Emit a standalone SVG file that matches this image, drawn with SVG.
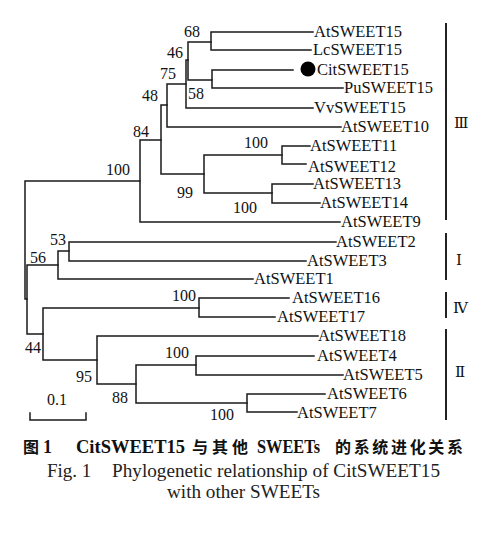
<svg xmlns="http://www.w3.org/2000/svg" width="500" height="535" viewBox="0 0 500 535">
<style>
.br{fill:none;stroke:#1a1a1a;stroke-width:1.5;stroke-linecap:square}
.bk{fill:none;stroke:#222;stroke-width:2}
.lb{font-family:"Liberation Serif","Times New Roman",serif;font-size:16.5px;fill:#111}
.bs{font-family:"Liberation Serif","Times New Roman",serif;font-size:16px;fill:#111}
.rn{font-family:"Liberation Serif","DejaVu Serif","Noto Sans CJK SC",serif;font-size:15px;fill:#111}
.c1{font-family:"Liberation Serif","Noto Serif CJK SC","Noto Sans CJK SC",serif;font-size:18px;font-weight:bold;fill:#111}
.cj{font-family:"Noto Sans CJK SC",sans-serif;font-size:16px;font-weight:bold;fill:#111}
.c2{font-family:"Liberation Serif","Times New Roman",serif;font-size:19px;fill:#222}
</style>
<rect width="500" height="535" fill="#fff"/>
<g id="connectors">
<path class="br" d="M25,181V299H27M25,181H140"/>
<path class="br" d="M140,140V222M140,140H161M140,222H340"/>
<path class="br" d="M161,105V174M161,105H167M161,174H204"/>
<path class="br" d="M167,84V127M167,84H186M167,127H341"/>
<path class="br" d="M186,60V108M186,60H188M186,108H313"/>
<path class="br" d="M188,42V80M188,42H211M188,80H212"/>
<path class="br" d="M211,32V50M211,32H313M211,50H311"/>
<path class="br" d="M212,70V88M212,70H293M212,88H343"/>
<path class="br" d="M204,155V193M204,155H282M204,193H272"/>
<path class="br" d="M282,146V164M282,146H310M282,164H306"/>
<path class="br" d="M272,184V203M272,184H313M272,203H320"/>
<path class="br" d="M27,265V334M27,265H58M27,334H43"/>
<path class="br" d="M58,251V279M58,251H69M58,279H253"/>
<path class="br" d="M69,242V261M69,242H336M69,261H306"/>
<path class="br" d="M43,308V360M43,308H199M43,360H97"/>
<path class="br" d="M199,298V317M199,298H289M199,317H275"/>
<path class="br" d="M97,336V384M97,336H318M97,384H136"/>
<path class="br" d="M136,365V403M136,365H196M136,403H247"/>
<path class="br" d="M196,356V375M196,356H314M196,375H343"/>
<path class="br" d="M247,394V412M247,394H325M247,412H297"/>
<path class="br" d="M30,413V420H86V413"/>
</g>
<g id="brackets">
<line class="bk" x1="446" y1="23" x2="446" y2="220"/>
<line class="bk" x1="446" y1="233" x2="446" y2="280"/>
<line class="bk" x1="446" y1="292" x2="446" y2="318"/>
<line class="bk" x1="446" y1="329" x2="446" y2="420"/>
<text class="rn" x="454" y="128">Ⅲ</text>
<text class="rn" x="456" y="265">Ⅰ</text>
<text class="rn" x="453" y="313">Ⅳ</text>
<text class="rn" x="455" y="377">Ⅱ</text>
</g>
<g id="bootstrap">
<text class="bs" x="184" y="37">68</text>
<text class="bs" x="167" y="58">46</text>
<text class="bs" x="160" y="79">75</text>
<text class="bs" x="188" y="99">58</text>
<text class="bs" x="142" y="101">48</text>
<text class="bs" x="133" y="137">84</text>
<text class="bs" x="106" y="175">100</text>
<text class="bs" x="244" y="148">100</text>
<text class="bs" x="177" y="198">99</text>
<text class="bs" x="233" y="213">100</text>
<text class="bs" x="50" y="245">53</text>
<text class="bs" x="30" y="263">56</text>
<text class="bs" x="172" y="301">100</text>
<text class="bs" x="25" y="353">44</text>
<text class="bs" x="165" y="358">100</text>
<text class="bs" x="76" y="382">95</text>
<text class="bs" x="112" y="403">88</text>
<text class="bs" x="210" y="420">100</text>
<text class="bs" x="47" y="405">0.1</text>
</g>
<g id="leaf-AtSWEET15"><text class="lb" x="314" y="37">AtSWEET15</text></g>
<g id="leaf-LcSWEET15"><text class="lb" x="313" y="55">LcSWEET15</text></g>
<g id="leaf-CitSWEET15"><circle cx="308" cy="69" r="7.5" fill="#000"/><text class="lb" x="317" y="75">CitSWEET15</text></g>
<g id="leaf-PuSWEET15"><text class="lb" x="344" y="93">PuSWEET15</text></g>
<g id="leaf-VvSWEET15"><text class="lb" x="314" y="113">VvSWEET15</text></g>
<g id="leaf-AtSWEET10"><text class="lb" x="341" y="132">AtSWEET10</text></g>
<g id="leaf-AtSWEET11"><text class="lb" x="310" y="151">AtSWEET11</text></g>
<g id="leaf-AtSWEET12"><text class="lb" x="308" y="172">AtSWEET12</text></g>
<g id="leaf-AtSWEET13"><text class="lb" x="313" y="189">AtSWEET13</text></g>
<g id="leaf-AtSWEET14"><text class="lb" x="320" y="208">AtSWEET14</text></g>
<g id="leaf-AtSWEET9"><text class="lb" x="341" y="227">AtSWEET9</text></g>
<g id="leaf-AtSWEET2"><text class="lb" x="336" y="247">AtSWEET2</text></g>
<g id="leaf-AtSWEET3"><text class="lb" x="307" y="266">AtSWEET3</text></g>
<g id="leaf-AtSWEET1"><text class="lb" x="254" y="284">AtSWEET1</text></g>
<g id="leaf-AtSWEET16"><text class="lb" x="292" y="303">AtSWEET16</text></g>
<g id="leaf-AtSWEET17"><text class="lb" x="277" y="322">AtSWEET17</text></g>
<g id="leaf-AtSWEET18"><text class="lb" x="318" y="341">AtSWEET18</text></g>
<g id="leaf-AtSWEET4"><text class="lb" x="317" y="361">AtSWEET4</text></g>
<g id="leaf-AtSWEET5"><text class="lb" x="343" y="380">AtSWEET5</text></g>
<g id="leaf-AtSWEET6"><text class="lb" x="327" y="399">AtSWEET6</text></g>
<g id="leaf-AtSWEET7"><text class="lb" x="297" y="418">AtSWEET7</text></g>
<g id="caption">
<text class="cj" x="23" y="453">图</text>
<text class="c1" x="43" y="453">1</text>
<text class="c1" x="76" y="453" textLength="109" lengthAdjust="spacingAndGlyphs">CitSWEET15</text>
<text class="cj" x="192" y="453" textLength="56" lengthAdjust="spacing">与其他</text>
<text class="c1" x="257" y="453" textLength="63" lengthAdjust="spacingAndGlyphs">SWEETs</text>
<text class="cj" x="335" y="453" textLength="128" lengthAdjust="spacing">的系统进化关系</text>
<text class="c2" x="47" y="477">Fig. 1</text>
<text class="c2" x="112" y="477" textLength="328" lengthAdjust="spacingAndGlyphs">Phylogenetic relationship of CitSWEET15</text>
<text class="c2" x="167" y="498" textLength="153" lengthAdjust="spacingAndGlyphs">with other SWEETs</text>
</g>
</svg>
